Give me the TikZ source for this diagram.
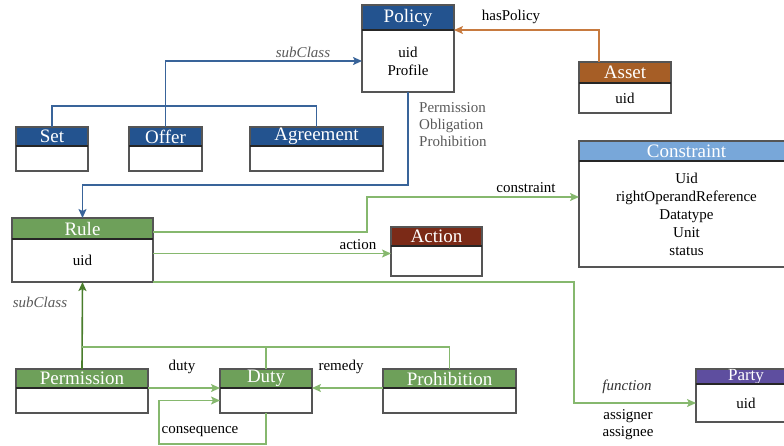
\documentclass[tikz,border=0pt]{standalone}
\usepackage{fontspec}
\setmainfont{Liberation Serif}
\usepackage{tikz}
\usetikzlibrary{arrows.meta,calc,positioning}

\definecolor{polblue}{HTML}{23538F}
\definecolor{assetbrown}{HTML}{A65E26}
\definecolor{hasorange}{HTML}{C77A3F}
\definecolor{rulegreen}{HTML}{6EA05A}
\definecolor{linkgreen}{HTML}{86B86E}
\definecolor{subgreen}{HTML}{4A7D2C}
\definecolor{actred}{HTML}{7B2A17}
\definecolor{conblue}{HTML}{78A7D9}
\definecolor{partypurple}{HTML}{5E4E9F}
\definecolor{frame}{HTML}{555555}
\definecolor{labgrey}{HTML}{595959}

\begin{document}
\begin{tikzpicture}[
  x=1pt, y=-1pt,
  font=\fontsize{15}{18}\selectfont,
  hd/.style={draw=frame, line width=1.1pt, text=white, anchor=north west,
             inner sep=0pt, outer sep=0pt, font=\fontsize{19}{20}\selectfont},
  bd/.style={draw=frame, line width=1.1pt, fill=white, anchor=north west,
             inner sep=0pt, outer sep=0pt, align=center},
  divider/.style={line width=1.6pt, black!85},
  lab/.style={inner sep=1pt, align=center},
  sublab/.style={lab, text=labgrey, font=\fontsize{15}{18}\selectfont\itshape},
  arr/.style={-{Stealth[length=9pt, width=8pt, inset=2pt]}, line width=1.6pt},
  bluearr/.style={arr, polblue!90!white},
  orangearr/.style={arr, hasorange},
  greenarr/.style={arr, linkgreen},
  subarr/.style={arr, subgreen}]
\clip (0,0) rectangle (784,445);
% classes
\node[hd, fill=polblue, minimum width=92, minimum height=25] (policy) at (362,5) {Policy};
\node[bd, minimum width=92, minimum height=62] (policyb) at (policy.south west) {uid\\Profile};
\node[hd, fill=polblue, minimum width=72, minimum height=19] (set) at (16,127) {Set};
\node[bd, minimum width=72, minimum height=25] (setb) at (set.south west) {};
\node[hd, fill=polblue, minimum width=73, minimum height=19] (offer) at (129,127) {Offer};
\node[bd, minimum width=73, minimum height=25] (offerb) at (offer.south west) {};
\node[hd, fill=polblue, minimum width=133, minimum height=19] (agreement) at (250,127) {Agreement};
\node[bd, minimum width=133, minimum height=25] (agreementb) at (agreement.south west) {};
\node[hd, fill=assetbrown, minimum width=92, minimum height=21] (asset) at (579,62) {Asset};
\node[bd, minimum width=92, minimum height=30] (assetb) at (asset.south west) {uid};
\node[hd, fill=rulegreen, minimum width=141, minimum height=21] (rule) at (12,218) {Rule};
\node[bd, minimum width=141, minimum height=43] (ruleb) at (rule.south west) {uid};
\node[hd, fill=actred, minimum width=91, minimum height=19] (action) at (391,227) {Action};
\node[bd, minimum width=91, minimum height=30] (actionb) at (action.south west) {};
\node[hd, fill=conblue, minimum width=215, minimum height=20] (constraint) at (579,141) {Constraint};
\node[bd, minimum width=215, minimum height=106] (constraintb) at (constraint.south west)
  {Uid\\rightOperandReference\\Datatype\\Unit\\status};
\node[hd, fill=partypurple, minimum width=100, minimum height=15, font=\fontsize{17}{18}\selectfont] (party) at (696,369) {Party};
\node[bd, minimum width=100, minimum height=38] (partyb) at (party.south west) {uid};
\node[hd, fill=rulegreen, minimum width=132, minimum height=19] (permission) at (16,369) {Permission};
\node[bd, minimum width=132, minimum height=25] (permissionb) at (permission.south west) {};
\node[hd, fill=rulegreen, minimum width=92, minimum height=19] (duty) at (220,369) {Duty};
\node[bd, minimum width=92, minimum height=25] (dutyb) at (duty.south west) {};
\node[hd, fill=rulegreen, minimum width=133, minimum height=19] (prohibition) at (383,369) {Prohibition};
\node[bd, minimum width=133, minimum height=25] (prohibitionb) at (prohibition.south west) {};
\foreach \n in {policy,set,offer,agreement,asset,rule,action,constraint,party,permission,duty,prohibition}
  \draw[divider] (\n.south west) -- (\n.south east);
% policy part
\draw[orangearr] ($(asset.north west)+(20,0)$) |- (policy.south east);
\node[lab] (haspolicy) at (511,17) {hasPolicy};
\draw[bluearr] (offer.north) |- (policyb.west);
\node[sublab] (subpol) at (303,52) {subClass};
\draw[line width=1.6pt, polblue!90!white] (set.north) -- ++(0,-21) -| (agreement.north);
\draw[bluearr] (policyb.south) -- ++(0,93) -| (rule.north);
\node[lab, text=labgrey, anchor=north west, align=left] (kinds) at (418,101)
  {Permission\\[-1pt]Obligation\\[-1pt]Prohibition};
% rule part
\draw[greenarr] ($(ruleb.north east)+(0,-7)$) -- ++(214,0) |- ($(constraintb.north west)+(0,36)$);
\node[lab] (conlab) at (526,188) {constraint};
\draw[greenarr] ($(ruleb.east)+(0,-7)$) coordinate (actstart) -- (actstart -| actionb.west);
\node[lab] (actlab) at (358,245) {action};
\draw[greenarr] (ruleb.south east) -- ++(421,0) |- (partyb.west);
\node[sublab, text=black!80] (funlab) at (627,387) {function};
\node[lab] (asslab) at (628,425) {assigner\\[-1pt]assignee};
\draw[subarr] (permission.north) -- (ruleb.south);
\node[sublab] (subrule) at (40,302) {subClass};
\draw[line width=1.6pt, linkgreen] (permission.north) ++(0,-22) -| (prohibition.north);
\draw[line width=1.6pt, linkgreen] (duty.north) -- ++(0,-22);
\draw[greenarr] (permissionb.north east) -- (dutyb.north west);
\node[lab] (dutylab) at (182,367) {duty};
\draw[greenarr] (prohibitionb.north west) -- (dutyb.north east);
\node[lab] (remlab) at (341,367) {remedy};
\draw[greenarr] (dutyb.south) -- ++(0,31) -| ($(dutyb.west)+(-61,0)$) -- (dutyb.west);
\node[lab] (conslab) at (200,431) {consequence};
\end{tikzpicture}
\end{document}
